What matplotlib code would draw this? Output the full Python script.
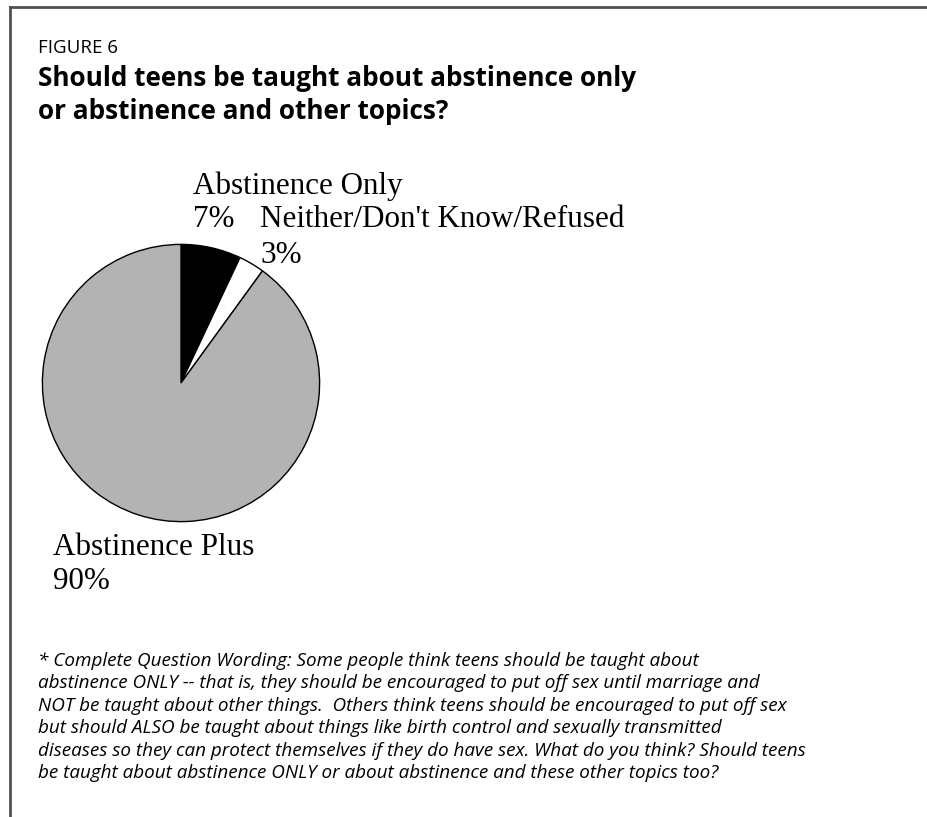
import matplotlib
matplotlib.use("Agg")
import matplotlib.pyplot as plt
from matplotlib.lines import Line2D

# --- data ---
labels = ["Abstinence Only", "Neither/Don't Know/Refused", "Abstinence Plus"]
shares = [7, 3, 90]
colors = ["#000000", "#ffffff", "#b3b3b3"]

fig_label = "FIGURE 6"
title_lines = ["Should teens be taught about abstinence only",
               "or abstinence and other topics?"]
note_lines = [
    "* Complete Question Wording: Some people think teens should be taught about",
    "abstinence ONLY -- that is, they should be encouraged to put off sex until marriage and",
    "NOT be taught about other things.  Others think teens should be encouraged to put off sex",
    "but should ALSO be taught about things like birth control and sexually transmitted",
    "diseases so they can protect themselves if they do have sex. What do you think? Should teens",
    "be taught about abstinence ONLY or about abstinence and these other topics too?",
]

W, H = 927, 817
fig = plt.figure(figsize=(W / 100, H / 100), dpi=100)
fig.patch.set_facecolor("white")


def px(x, y):
    # pixel position (from top-left) -> figure fraction
    return x / W, 1 - y / H


# frame: top and left rules only
fig.add_artist(Line2D([10 / W, 1], [1 - 7 / H, 1 - 7 / H], color="#505050", lw=2.0))
fig.add_artist(Line2D([10 / W, 10 / W], [1 - 7 / H, 0], color="#505050", lw=2.0))

# headings
fig.text(*px(38, 53), fig_label, family="Open Sans", fontsize=13.5, va="baseline")
for i, line in enumerate(title_lines):
    fig.text(*px(38, 86 + i * 33), line, family="Open Sans", fontweight="bold",
             fontsize=18.8, va="baseline")

# pie
cx, cy, r = 181, 383, 140
ax = fig.add_axes([(cx - r) / W, 1 - (cy + r) / H, 2 * r / W, 2 * r / H])
ax.pie(shares, colors=colors, startangle=90, counterclock=False, radius=1,
       wedgeprops=dict(edgecolor="black", linewidth=1.0))
ax.set_xlim(-1.01, 1.01)
ax.set_ylim(-1.01, 1.01)
ax.axis("off")

# slice labels
serif = "Liberation Serif"
lab_pos = [(193, 194, 227), (260, 227, 263), (53, 555, 589)]
for name, val, (x, y1, y2) in zip(labels, shares, lab_pos):
    fig.text(*px(x, y1), name, family=serif, fontsize=22.4, va="baseline")
    fig.text(*px(x, y2), f"{val}%", family=serif, fontsize=22.4, va="baseline")

# footnote
for i, line in enumerate(note_lines):
    fig.text(*px(38, 666 + i * 22.4), line, family="Open Sans", style="italic",
             fontsize=13.6, va="baseline")

fig.savefig("out.png", dpi=100, facecolor="white")
